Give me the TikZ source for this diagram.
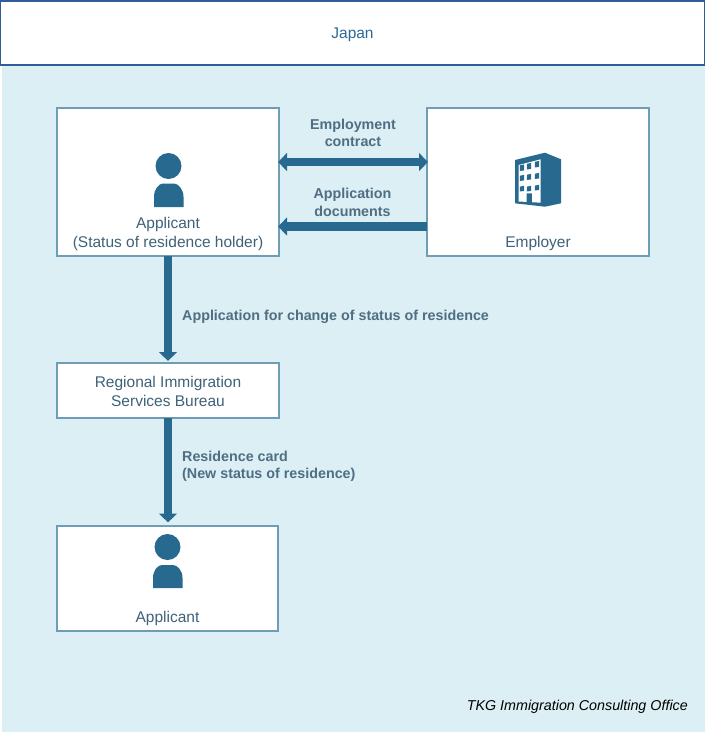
\documentclass[tikz,border=0pt]{standalone}
\usepackage{fontspec}
\setmainfont{Liberation Sans}
\usetikzlibrary{arrows.meta}
\definecolor{bgc}{HTML}{DCEFF5}
\definecolor{edgec}{HTML}{6F9DB5}
\definecolor{framec}{HTML}{2F5D9B}
\definecolor{iconc}{HTML}{27698F}
\definecolor{textc}{HTML}{3F6278}
\definecolor{labelc}{HTML}{4F6E82}
\definecolor{titlec}{HTML}{2A6A96}
\tikzset{
  boxn/.style={draw=edgec,line width=1.3pt,fill=white,minimum width=#1,inner sep=0pt,outer sep=0pt},
  boxn/.default=222pt,
  lab/.style={text=textc,font=\fontsize{15.5}{19}\selectfont,align=center,inner sep=0pt},
  conn/.style={text=labelc,font=\fontsize{14.3}{17.3}\selectfont\bfseries,inner sep=0pt},
  flow/.style={draw=iconc,line width=8.8pt},
  tip/.tip={Triangle[length=9pt,width=17.5pt]},
  icon/.style={fill=iconc,draw=none},
}
\begin{document}
\begin{tikzpicture}[x=1pt,y=-1pt]
\useasboundingbox (0,0) rectangle (705,732);
\fill[bgc] (2,66) rectangle (705,732);
\node[draw=framec,line width=1.5pt,fill=white,minimum width=704pt,minimum height=64pt,inner sep=0pt,outer sep=0pt] (japan) at (352.5,33) {};
\node[text=titlec,font=\fontsize{15.5}{18}\selectfont,inner sep=0pt] (japant) at (352.5,34.5) {Japan};
\node[boxn,minimum height=148pt] (appa) at (168,182) {};
\node[boxn,minimum height=148pt] (empl) at (538,182) {};
\node[boxn,minimum height=55pt] (bureau) at (168,390.5) {};
\node[boxn=221pt,minimum height=105pt] (appb) at (167.5,578.5) {};
\node[lab] (appat) at (168,233.5) {Applicant\\(Status of residence holder)};
\node[lab] (emplt) at (538,243) {Employer};
\node[lab] (bureaut) at (168,391) {Regional Immigration\\Services Bureau};
\node[lab] (appbt) at (167.5,618) {Applicant};
% person icons
\fill[icon] (168.5,166) circle (13);
\fill[icon] (154,207) -- (154,197) .. controls (154,189) and (159,183.5) .. (163,183.5) -- (174,183.5) .. controls (178,183.5) and (183.5,189) .. (183.5,197) -- (183.5,207) -- cycle;
\fill[icon] (167.5,547) circle (13);
\fill[icon] (153,588) -- (153,578) .. controls (153,570) and (158,565) .. (162,565) -- (173,565) .. controls (177,565) and (182.5,570) .. (182.5,578) -- (182.5,588) -- cycle;
% building icon
\fill[icon] (515,160) -- (545,152.7) -- (561,159.3) -- (561,203.3) -- (545,206.7) -- (515,203.3) -- cycle;
\fill[white] (518.7,165) -- (540.7,159.3) -- (540.7,202.7) -- (532,202.2) -- (532,193.3) -- (526.5,193.3) -- (526.5,201.9) -- (518.7,201.5) -- cycle;
\foreach \wx/\wy/\wt in {522/166/-1, 529/164.5/-1, 537/162.5/-1, 522/176/-.6, 529/175/-.6, 537/174/-.6, 522/186.5/-.2, 529/186.5/-.2, 537/185.5/-.2}
  \fill[icon] (\wx-2.2,\wy+\wt+.4) -- (\wx+2.2,\wy+\wt-.6) -- (\wx+2.2,\wy+4.4) -- (\wx-2.2,\wy+5) -- cycle;
% connectors
\draw[flow,{tip}-{tip},shorten <=-1pt,shorten >=-1pt] ([yshift=20pt]appa.east) -- ([yshift=20pt]empl.west);
\draw[flow,-{tip},shorten >=-1pt] ([yshift=-44.5pt]empl.west) -- ([yshift=-44.5pt]appa.east);
\draw[flow,-{tip},shorten >=2pt] (appa.south) -- (bureau.north);
\draw[flow,-{tip},shorten >=3.5pt] (bureau.south) -- (bureau.south |- appb.north);
% labels
\node[conn,align=center] (l1) at (353,133) {Employment\\contract};
\node[conn,align=center] (l2) at (352.5,202.5) {Application\\documents};
\node[conn,anchor=west] (l3) at (182,316.5) {Application for change of status of residence};
\node[conn,anchor=west,align=left] (l4) at (182,466) {Residence card\\(New status of residence)};
\node[inner sep=0pt,anchor=east,text=black,font=\fontsize{14.3}{16}\selectfont\itshape] (credit) at (688,707) {TKG Immigration Consulting Office};
\end{tikzpicture}
\end{document}
